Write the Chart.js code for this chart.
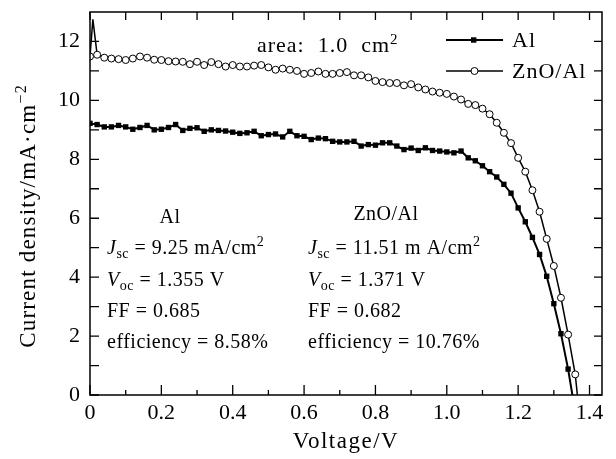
<!DOCTYPE html>
<html>
<head>
<meta charset="utf-8">
<script src="https://cdn.jsdelivr.net/npm/chart.js@4.4.1/dist/chart.umd.min.js"></script>
<style>
  html, body { margin: 0; padding: 0; background: #fff; }
  #wrap { width: 616px; height: 459px; }
</style>
</head>
<body>
<div id="wrap"><canvas id="chart"></canvas></div>
<script>
// ── Data ──────────────────────────────────────────────────────────────────────
const alVoltage = [
  0, 0.02, 0.04, 0.06, 0.08, 0.10, 0.12, 0.14, 0.16, 0.18,
  0.20, 0.22, 0.24, 0.26, 0.28, 0.30, 0.32, 0.34, 0.36, 0.38,
  0.40, 0.42, 0.44, 0.46, 0.48, 0.50, 0.52, 0.54, 0.56, 0.58,
  0.60, 0.62, 0.64, 0.66, 0.68, 0.70, 0.72, 0.74, 0.76, 0.78,
  0.80, 0.82, 0.84, 0.86, 0.88, 0.90, 0.92, 0.94, 0.96, 0.98,
  1.00, 1.02, 1.04, 1.06, 1.08, 1.10, 1.12, 1.14, 1.16, 1.18,
  1.20, 1.22, 1.24, 1.26, 1.28, 1.30, 1.32, 1.34, 1.352,
];
const alCurrent = [
  9.22, 9.18, 9.10, 9.10, 9.15, 9.10, 9.02, 9.08, 9.15, 9.00,
  9.02, 9.08, 9.18, 8.98, 9.05, 9.07, 8.95, 9.00, 8.98, 8.96,
  8.92, 8.88, 8.90, 8.95, 8.80, 8.84, 8.86, 8.76, 8.95, 8.80,
  8.78, 8.67, 8.72, 8.70, 8.61, 8.59, 8.59, 8.61, 8.45, 8.50,
  8.48, 8.56, 8.56, 8.45, 8.33, 8.38, 8.30, 8.39, 8.30, 8.28,
  8.25, 8.22, 8.28, 8.05, 7.95, 7.78, 7.58, 7.40, 7.15, 6.85,
  6.35, 5.88, 5.35, 4.77, 4.03, 3.10, 2.08, 0.88, 0,
];

const znoVoltage = [
  0, 0.008, 0.02, 0.04, 0.06, 0.08, 0.10, 0.12, 0.14, 0.16, 0.18,
  0.20, 0.22, 0.24, 0.26, 0.28, 0.30, 0.32, 0.34, 0.36, 0.38,
  0.40, 0.42, 0.44, 0.46, 0.48, 0.50, 0.52, 0.54, 0.56, 0.58,
  0.60, 0.62, 0.64, 0.66, 0.68, 0.70, 0.72, 0.74, 0.76, 0.78,
  0.80, 0.82, 0.84, 0.86, 0.88, 0.90, 0.92, 0.94, 0.96, 0.98,
  1.00, 1.02, 1.04, 1.06, 1.08, 1.10, 1.12, 1.14, 1.16, 1.18,
  1.20, 1.22, 1.24, 1.26, 1.28, 1.30, 1.32, 1.34, 1.36, 1.366,
];
const znoCurrent = [
  11.49, 12.75, 11.55, 11.45, 11.42, 11.40, 11.37, 11.42, 11.49, 11.45, 11.38,
  11.37, 11.33, 11.32, 11.31, 11.23, 11.31, 11.20, 11.30, 11.23, 11.15,
  11.20, 11.15, 11.15, 11.18, 11.20, 11.12, 11.04, 11.08, 11.04, 11.00,
  10.90, 10.93, 10.98, 10.90, 10.90, 10.93, 10.96, 10.85, 10.85, 10.78,
  10.66, 10.62, 10.59, 10.59, 10.51, 10.55, 10.44, 10.37, 10.30, 10.26,
  10.22, 10.13, 10.03, 9.88, 9.84, 9.72, 9.53, 9.24, 8.90, 8.55,
  8.05, 7.58, 6.95, 6.22, 5.30, 4.38, 3.30, 2.05, 0.70, 0,
];
// points drawn as line only (no marker)
const znoNoMarker = [1, 70];
const alNoMarker = [68];

const xTicks = [0, 0.2, 0.4, 0.6, 0.8, 1.0, 1.2, 1.4];
const xMinor = [0.1, 0.3, 0.5, 0.7, 0.9, 1.1, 1.3];
const yTicks = [0, 2, 4, 6, 8, 10, 12];
const yMinor = [1, 3, 5, 7, 9, 11];

const seriesNames = ["Al", "ZnO/Al"];

const FONT = "'Liberation Serif', 'DejaVu Serif', serif";

// ── Helpers ───────────────────────────────────────────────────────────────────
function toPoints(xs, ys) {
  return xs.map((x, i) => ({ x, y: ys[i] }));
}

// draw a run list: [text, kind] with kind n | i | sub | sup
function drawRuns(ctx, x, y, runs, size, align, spacing) {
  ctx.letterSpacing = (spacing || 0) + "px";
  const fontFor = k => {
    if (k === "i") return `italic ${size}px ${FONT}`;
    if (k === "sub" || k === "sup") return `${Math.round(size * 0.7)}px ${FONT}`;
    return `${size}px ${FONT}`;
  };
  let total = 0;
  runs.forEach(([t, k]) => { ctx.font = fontFor(k); total += ctx.measureText(t).width; });
  let cx = align === "center" ? x - total / 2 : x;
  runs.forEach(([t, k]) => {
    ctx.font = fontFor(k);
    let dy = 0;
    if (k === "sub") dy = size * 0.22;
    if (k === "sup") dy = -size * 0.38;
    ctx.fillText(t, cx, y + dy);
    cx += ctx.measureText(t).width;
  });
  ctx.letterSpacing = "0px";
  return total;
}

// ── Frame, inward ticks, titles, legend, notes ────────────────────────────────
const decorPlugin = {
  id: "decor",
  afterDraw(chart) {
    const { ctx, chartArea: a, scales: { x, y } } = chart;
    ctx.save();
    ctx.strokeStyle = "#000";
    ctx.fillStyle = "#000";

    // frame
    ctx.lineWidth = 1.5;
    ctx.strokeRect(a.left, a.top, a.right - a.left, a.bottom - a.top);

    // ticks
    ctx.lineWidth = 1.3;
    ctx.beginPath();
    xTicks.concat(xMinor).forEach(v => {
      const px = x.getPixelForValue(v);
      const major = xTicks.includes(v);
      ctx.moveTo(px, a.bottom); ctx.lineTo(px, a.bottom - (major ? 10 : 5));
      ctx.moveTo(px, a.top); ctx.lineTo(px, a.top + 8);
    });
    yTicks.concat(yMinor).forEach(v => {
      const py = y.getPixelForValue(v);
      ctx.moveTo(a.left, py); ctx.lineTo(a.left + 9, py);
      ctx.moveTo(a.right, py); ctx.lineTo(a.right - 8, py);
    });
    ctx.stroke();

    // axis titles
    ctx.textBaseline = "alphabetic";
    drawRuns(ctx, (a.left + a.right) / 2, 448, [["Voltage/V", "n"]], 23, "center", 1.5);
    ctx.save();
    ctx.translate(35, 216);
    ctx.rotate(-Math.PI / 2);
    drawRuns(ctx, 0, 0, [["Current density/mA\u00b7cm", "n"], ["\u22122", "sup"]], 23, "center", 1.2);
    ctx.restore();

    // legend
    const legendRows = [
      { name: seriesNames[0], y: 40, style: "rect", lw: 2 },
      { name: seriesNames[1], y: 71, style: "circle", lw: 1.5 },
    ];
    legendRows.forEach(r => {
      ctx.lineWidth = r.lw;
      ctx.beginPath(); ctx.moveTo(446, r.y); ctx.lineTo(503, r.y); ctx.stroke();
      if (r.style === "rect") {
        ctx.fillRect(471, r.y - 2.7, 5.4, 5.4);
      } else {
        ctx.beginPath(); ctx.arc(474.5, r.y, 3.5, 0, Math.PI * 2);
        ctx.fillStyle = "#fff"; ctx.fill();
        ctx.lineWidth = 1; ctx.stroke();
        ctx.fillStyle = "#000";
      }
      drawRuns(ctx, 512, r.y + 7, [[r.name, "n"]], 22, "left", 1);
    });

    // notes
    drawRuns(ctx, 257, 52, [["area:  1.0  cm", "n"], ["2", "sup"]], 22, "left", 1);

    const leftX = 107, rightX = 308;
    drawRuns(ctx, 170, 223, [["Al", "n"]], 20, "center", 0.5);
    drawRuns(ctx, leftX, 254, [["J", "i"], ["sc", "sub"], [" = 9.25 mA/cm", "n"], ["2", "sup"]], 20, "left", 0.5);
    drawRuns(ctx, leftX, 286, [["V", "i"], ["oc", "sub"], [" = 1.355 V", "n"]], 20, "left", 0.5);
    drawRuns(ctx, leftX, 317, [["FF = 0.685", "n"]], 20, "left", 0.5);
    drawRuns(ctx, leftX, 348, [["efficiency = 8.58%", "n"]], 20, "left", 0.5);

    drawRuns(ctx, 386, 220, [["ZnO/Al", "n"]], 20, "center", 0.5);
    drawRuns(ctx, rightX, 254, [["J", "i"], ["sc", "sub"], [" = 11.51 m A/cm", "n"], ["2", "sup"]], 20, "left", 0.5);
    drawRuns(ctx, rightX, 286, [["V", "i"], ["oc", "sub"], [" = 1.371 V", "n"]], 20, "left", 0.5);
    drawRuns(ctx, rightX, 317, [["FF = 0.682", "n"]], 20, "left", 0.5);
    drawRuns(ctx, rightX, 348, [["efficiency = 10.76%", "n"]], 20, "left", 0.5);

    ctx.restore();
  },
};

// ── Chart ─────────────────────────────────────────────────────────────────────
new Chart(document.getElementById("chart"), {
  type: "scatter",
  data: {
    datasets: [
      {
        label: seriesNames[0],
        data: toPoints(alVoltage, alCurrent),
        showLine: true,
        borderColor: "#000",
        backgroundColor: "#000",
        borderWidth: 2,
        pointStyle: "rect",
        pointRadius: c => alNoMarker.includes(c.dataIndex) ? 0 : 3.8,
        pointBorderWidth: 0,
        pointBackgroundColor: "#000",
      },
      {
        label: seriesNames[1],
        data: toPoints(znoVoltage, znoCurrent),
        showLine: true,
        borderColor: "#000",
        borderWidth: 1.5,
        pointStyle: "circle",
        pointRadius: c => znoNoMarker.includes(c.dataIndex) ? 0 : 3.5,
        pointBorderWidth: 1,
        pointBorderColor: "#000",
        pointBackgroundColor: "#fff",
      },
    ],
  },
  options: {
    responsive: true,
    maintainAspectRatio: false,
    animation: false,
    devicePixelRatio: 1,
    layout: { padding: { left: 0, right: 14, top: 12, bottom: 0 } },
    plugins: { legend: { display: false }, tooltip: { enabled: false } },
    scales: {
      x: {
        type: "linear",
        min: 0, max: 1.435,
        afterBuildTicks: s => { s.ticks = xTicks.map(v => ({ value: v })); },
        afterFit: s => { s.height = 64; s.paddingLeft = 0; s.paddingRight = 0; },
        grid: { display: false, drawTicks: false },
        border: { display: false },
        ticks: {
          padding: 5,
          color: "#000",
          font: { family: FONT, size: 22 },
          callback: v => v === 0 ? "0" : v.toFixed(1),
        },
      },
      y: {
        type: "linear",
        min: 0, max: 13,
        afterBuildTicks: s => { s.ticks = yTicks.map(v => ({ value: v })); },
        afterFit: s => { s.width = 90; s.paddingTop = 0; s.paddingBottom = 0; },
        grid: { display: false, drawTicks: false },
        border: { display: false },
        ticks: {
          padding: 10,
          color: "#000",
          font: { family: FONT, size: 22 },
          callback: v => String(v),
        },
      },
    },
  },
  plugins: [decorPlugin],
});
</script>
</body>
</html>
